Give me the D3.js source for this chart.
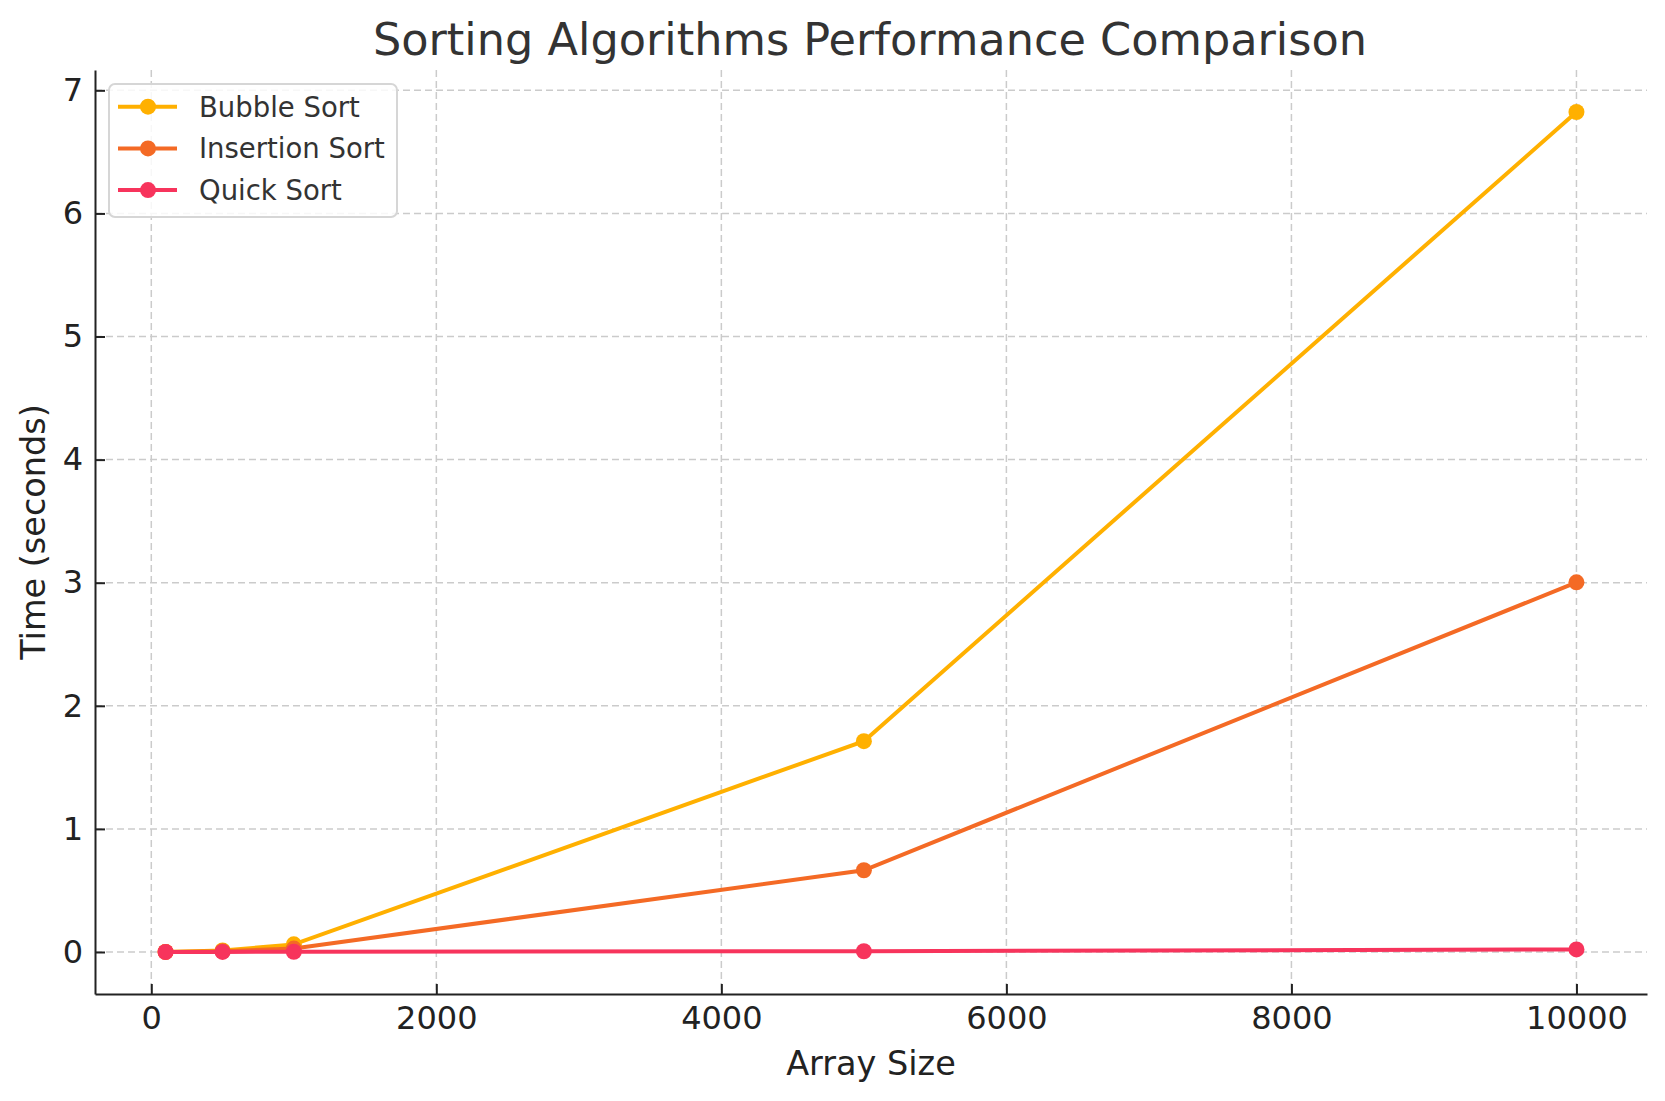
<!DOCTYPE html>
<html>
<head>
<meta charset="utf-8">
<script src="https://cdn.jsdelivr.net/npm/d3@7"></script>
<style>
    body { margin: 0; background: #ffffff; }
    text { font-family: "DejaVu Sans", sans-serif; }
</style>
</head>
<body>
<svg id="chart"></svg>
<script>
const arraySizes = [100, 500, 1000, 5000, 10000];
const bubbleTimes = [0.0005, 0.012, 0.062, 1.713, 6.824];
const insertionTimes = [0.0003, 0.006, 0.028, 0.664, 3.003];
const quickTimes = [0.0001, 0.0008, 0.0018, 0.006, 0.021];
const seriesNames = ["Bubble Sort", "Insertion Sort", "Quick Sort"];
const seriesColors = ["#ffb000", "#f46a25", "#f7345c"];
const xTicks = [0, 2000, 4000, 6000, 8000, 10000];
const yTicks = [0, 1, 2, 3, 4, 5, 6, 7];

const WIDTH = 1665, HEIGHT = 1101;
const margin = {top: 70, right: 18, bottom: 107, left: 95};

class SortChart {
    constructor() {
        this.svg = d3.select("#chart")
            .attr("width", WIDTH)
            .attr("height", HEIGHT);
        this.innerW = WIDTH - margin.left - margin.right;
        this.innerH = HEIGHT - margin.top - margin.bottom;

        // matplotlib style 5% padding around the data
        const xMin = d3.min(arraySizes), xMax = d3.max(arraySizes);
        const xPad = (xMax - xMin) * 0.05;
        const yMax = d3.max(bubbleTimes);
        const yPad = yMax * 0.05;

        this.x = d3.scaleLinear().domain([xMin - xPad, xMax + xPad]).range([0, this.innerW]);
        this.y = d3.scaleLinear().domain([-yPad, yMax + yPad]).range([this.innerH, 0]);

        this.g = this.svg.append("g")
            .attr("transform", `translate(${margin.left},${margin.top})`);
    }

    draw() {
        this.drawGrid();
        this.drawLines();
        this.drawAxes();
        this.drawLabels();
        this.drawLegend();
    }

    drawGrid() {
        const grid = this.g.append("g").attr("class", "grid");
        grid.selectAll(".vgrid")
            .data(xTicks)
            .enter().append("line")
            .attr("x1", d => this.x(d)).attr("x2", d => this.x(d))
            .attr("y1", 0).attr("y2", this.innerH)
            .attr("stroke", "#cbcbcb")
            .attr("stroke-width", 1.5)
            .attr("stroke-dasharray", "7,4");
        grid.selectAll(".hgrid")
            .data(yTicks)
            .enter().append("line")
            .attr("x1", 0).attr("x2", this.innerW)
            .attr("y1", d => this.y(d)).attr("y2", d => this.y(d))
            .attr("stroke", "#cbcbcb")
            .attr("stroke-width", 1.5)
            .attr("stroke-dasharray", "7,4");
    }

    drawLines() {
        const allSeries = [bubbleTimes, insertionTimes, quickTimes];
        const line = d3.line()
            .x((d, i) => this.x(arraySizes[i]))
            .y(d => this.y(d));

        allSeries.forEach((values, s) => {
            const sg = this.g.append("g");
            sg.append("path")
                .datum(values)
                .attr("d", line)
                .attr("fill", "none")
                .attr("stroke", seriesColors[s])
                .attr("stroke-width", 4);
            sg.selectAll("circle")
                .data(values)
                .enter().append("circle")
                .attr("cx", (d, i) => this.x(arraySizes[i]))
                .attr("cy", d => this.y(d))
                .attr("r", 8)
                .attr("fill", seriesColors[s]);
        });
    }

    drawAxes() {
        const xAxis = d3.axisBottom(this.x)
            .tickValues(xTicks)
            .tickFormat(d3.format("d"))
            .tickSizeInner(-10)
            .tickSizeOuter(0)
            .tickPadding(22);
        const yAxis = d3.axisLeft(this.y)
            .tickValues(yTicks)
            .tickFormat(d3.format("d"))
            .tickSizeInner(-10)
            .tickSizeOuter(0)
            .tickPadding(22);

        const gx = this.g.append("g")
            .attr("transform", `translate(0,${this.innerH})`)
            .call(xAxis);
        const gy = this.g.append("g").call(yAxis);

        [gx, gy].forEach(ax => {
            ax.select(".domain").attr("stroke", "#222222").attr("stroke-width", 2);
            ax.selectAll(".tick line").attr("stroke", "#222222").attr("stroke-width", 2);
            ax.selectAll(".tick text")
                .attr("fill", "#222222")
                .style("font-size", "32px");
        });
        gy.selectAll(".tick text").attr("x", -12);
        gx.selectAll(".tick text").attr("y", 12).attr("dy", "0.71em");
    }

    drawLabels() {
        this.svg.append("text")
            .attr("x", margin.left + this.innerW / 2 - 1)
            .attr("y", 55)
            .attr("text-anchor", "middle")
            .attr("fill", "#333333")
            .style("font-size", "44.6px")
            .text("Sorting Algorithms Performance Comparison");

        this.svg.append("text")
            .attr("x", margin.left + this.innerW / 2)
            .attr("y", 1075)
            .attr("text-anchor", "middle")
            .attr("fill", "#222222")
            .style("font-size", "33.5px")
            .text("Array Size");

        this.svg.append("text")
            .attr("transform", `translate(45,${margin.top + this.innerH / 2}) rotate(-90)`)
            .attr("text-anchor", "middle")
            .attr("fill", "#222222")
            .style("font-size", "33.5px")
            .text("Time (seconds)");
    }

    drawLegend() {
        const lg = this.svg.append("g").attr("transform", "translate(109,84)");
        lg.append("rect")
            .attr("width", 288)
            .attr("height", 133)
            .attr("rx", 6)
            .attr("fill", "#ffffff")
            .attr("fill-opacity", 0.85)
            .attr("stroke", "#d6d6d6")
            .attr("stroke-width", 2);

        const rows = lg.selectAll(".legend-row")
            .data(seriesNames)
            .enter().append("g")
            .attr("transform", (d, i) => `translate(0,${22.7 + i * 41.7})`);
        rows.append("line")
            .attr("x1", 9).attr("x2", 68)
            .attr("stroke", (d, i) => seriesColors[i])
            .attr("stroke-width", 4);
        rows.append("circle")
            .attr("cx", 39)
            .attr("r", 8)
            .attr("fill", (d, i) => seriesColors[i]);
        rows.append("text")
            .attr("x", 90)
            .attr("dy", "0.36em")
            .attr("fill", "#333333")
            .style("font-size", "27.5px")
            .text(d => d);
    }
}

new SortChart().draw();
</script>
</body>
</html>
